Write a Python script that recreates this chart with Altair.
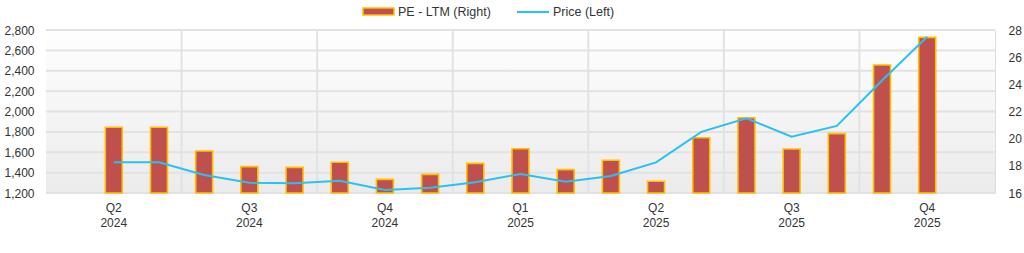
import altair as alt
import pandas as pd

# ---------------- data ----------------
months = ["2024-04", "2024-05", "2024-06", "2024-07", "2024-08", "2024-09",
          "2024-10", "2024-11", "2024-12", "2025-01", "2025-02", "2025-03",
          "2025-04", "2025-05", "2025-06", "2025-07", "2025-08", "2025-09",
          "2025-10"]
pe_ltm = [20.84, 20.84, 19.09, 17.94, 17.89, 18.26, 17.00, 17.37, 18.18, 19.26,
          17.72, 18.41, 16.86, 20.07, 21.54, 19.24, 20.37, 25.42, 27.46]
price = [1501, 1501, 1377, 1301, 1295, 1321, 1229, 1252, 1305, 1386,
         1311, 1367, 1501, 1800, 1933, 1753, 1858, 2305, 2734]
quarter_names = ["Q2", "Q3", "Q4", "Q1", "Q2", "Q3", "Q4"]
quarter_years = ["2024", "2024", "2024", "2025", "2025", "2025", "2025"]
quarter_label_pos = [0, 3, 6, 9, 12, 15, 18]
quarter_bounds = [1.5, 4.5, 7.5, 10.5, 13.5, 16.5]
price_ticks = [1200, 1400, 1600, 1800, 2000, 2200, 2400, 2600, 2800]
pe_ticks = [16, 18, 20, 22, 24, 26, 28]
legend_labels = ["PE - LTM (Right)", "Price (Left)"]

df = pd.DataFrame({"idx": list(range(len(months))), "month": months,
                   "pe": pe_ltm, "price": price})
qdf = pd.DataFrame({"pos": quarter_label_pos, "q": quarter_names, "yr": quarter_years})

W, H = 949, 163
BAR = "#c0504d"
BAR_STROKE = "#ffc000"
LINE = "#29c1f2"
GRID = "#e2e2e2"
TXT = "#333333"
FONT = "Liberation Sans"

xscale = alt.Scale(domain=[-1.5, 19.5], nice=False, zero=False, padding=0)
lscale = alt.Scale(domain=[price_ticks[0], price_ticks[-1]], nice=False, zero=False)
rscale = alt.Scale(domain=[pe_ticks[0], pe_ticks[-1]], nice=False, zero=False)

one = alt.Data(values=[{"a": 1}])

# background gradient
bg = alt.Chart(one).mark_rect(
    color=alt.LinearGradient(gradient="linear",
                             stops=[alt.GradientStop(color="#ffffff", offset=0),
                                    alt.GradientStop(color="#ebebeb", offset=1)],
                             x1=0, x2=0, y1=0, y2=1)
).encode(x=alt.value(0), x2=alt.value(W), y=alt.value(0), y2=alt.value(H))

hgrid = alt.Chart(pd.DataFrame({"t": price_ticks})).mark_rule(
    color=GRID, strokeWidth=2
).encode(
    y=alt.Y("t:Q", scale=lscale,
            axis=alt.Axis(values=price_ticks, format=",.0f", grid=False, domain=False,
                          ticks=False, labelPadding=12, labelFontSize=12,
                          labelColor=TXT, labelFont=FONT, title=None)),
    x=alt.value(0), x2=alt.value(W)
)

vgrid = alt.Chart(pd.DataFrame({"b": quarter_bounds})).mark_rule(
    color=GRID, strokeWidth=2
).encode(
    x=alt.X("b:Q", scale=xscale, axis=None),
    y=alt.value(0), y2=alt.value(H)
)

qtext = alt.Chart(qdf).mark_text(baseline="middle", align="center", fontSize=12,
                                 font=FONT, color=TXT).encode(
    x=alt.X("pos:Q", scale=xscale, axis=None), y=alt.value(H + 15), text="q:N")
ytext = alt.Chart(qdf).mark_text(baseline="middle", align="center", fontSize=12,
                                 font=FONT, color=TXT).encode(
    x=alt.X("pos:Q", scale=xscale, axis=None), y=alt.value(H + 30), text="yr:N")

left_base = alt.layer(bg, hgrid, vgrid, qtext, ytext)

bars = alt.Chart(df).mark_bar(size=17, color=BAR, stroke=BAR_STROKE,
                              strokeWidth=1.6).encode(
    x=alt.X("idx:Q", scale=xscale, axis=None),
    y=alt.Y("pe:Q", scale=rscale,
            axis=alt.Axis(orient="right", values=pe_ticks, grid=False, domain=False,
                          ticks=False, labelPadding=13, labelFontSize=12,
                          labelColor=TXT, labelFont=FONT, title=None)),
    y2=alt.datum(pe_ticks[0]),
)

line = alt.Chart(df).mark_line(color=LINE, strokeWidth=2).encode(
    x=alt.X("idx:Q", scale=xscale, axis=None),
    y=alt.Y("price:Q", scale=lscale, axis=None),
)

# legend
leg_rect = alt.Chart(one).mark_rect(color=BAR, stroke=BAR_STROKE, strokeWidth=1.6).encode(
    x=alt.value(317), x2=alt.value(348), y=alt.value(-22), y2=alt.value(-15))
leg_rule = alt.Chart(one).mark_rule(color=LINE, strokeWidth=2).encode(
    x=alt.value(471), x2=alt.value(503), y=alt.value(-18))
leg_t1 = alt.Chart(one).mark_text(text=legend_labels[0], align="left", baseline="middle",
                                  fontSize=12.5, font=FONT, color=TXT).encode(
    x=alt.value(352), y=alt.value(-18))
leg_t2 = alt.Chart(one).mark_text(text=legend_labels[1], align="left", baseline="middle",
                                  fontSize=12.5, font=FONT, color=TXT).encode(
    x=alt.value(507), y=alt.value(-18))
legend = alt.layer(leg_rect, leg_rule, leg_t1, leg_t2)

chart = alt.layer(left_base, bars, line, legend).resolve_scale(
    y="independent"
).properties(
    width=W, height=H,
    autosize=alt.AutoSizeParams(type="none"),
    padding={"left": 46, "top": 30, "right": 29, "bottom": 60},
).configure_view(stroke="#d8d8d8", strokeWidth=2).configure(background="white")

chart.save("out.html", embed_options={"renderer": "svg", "actions": False})
